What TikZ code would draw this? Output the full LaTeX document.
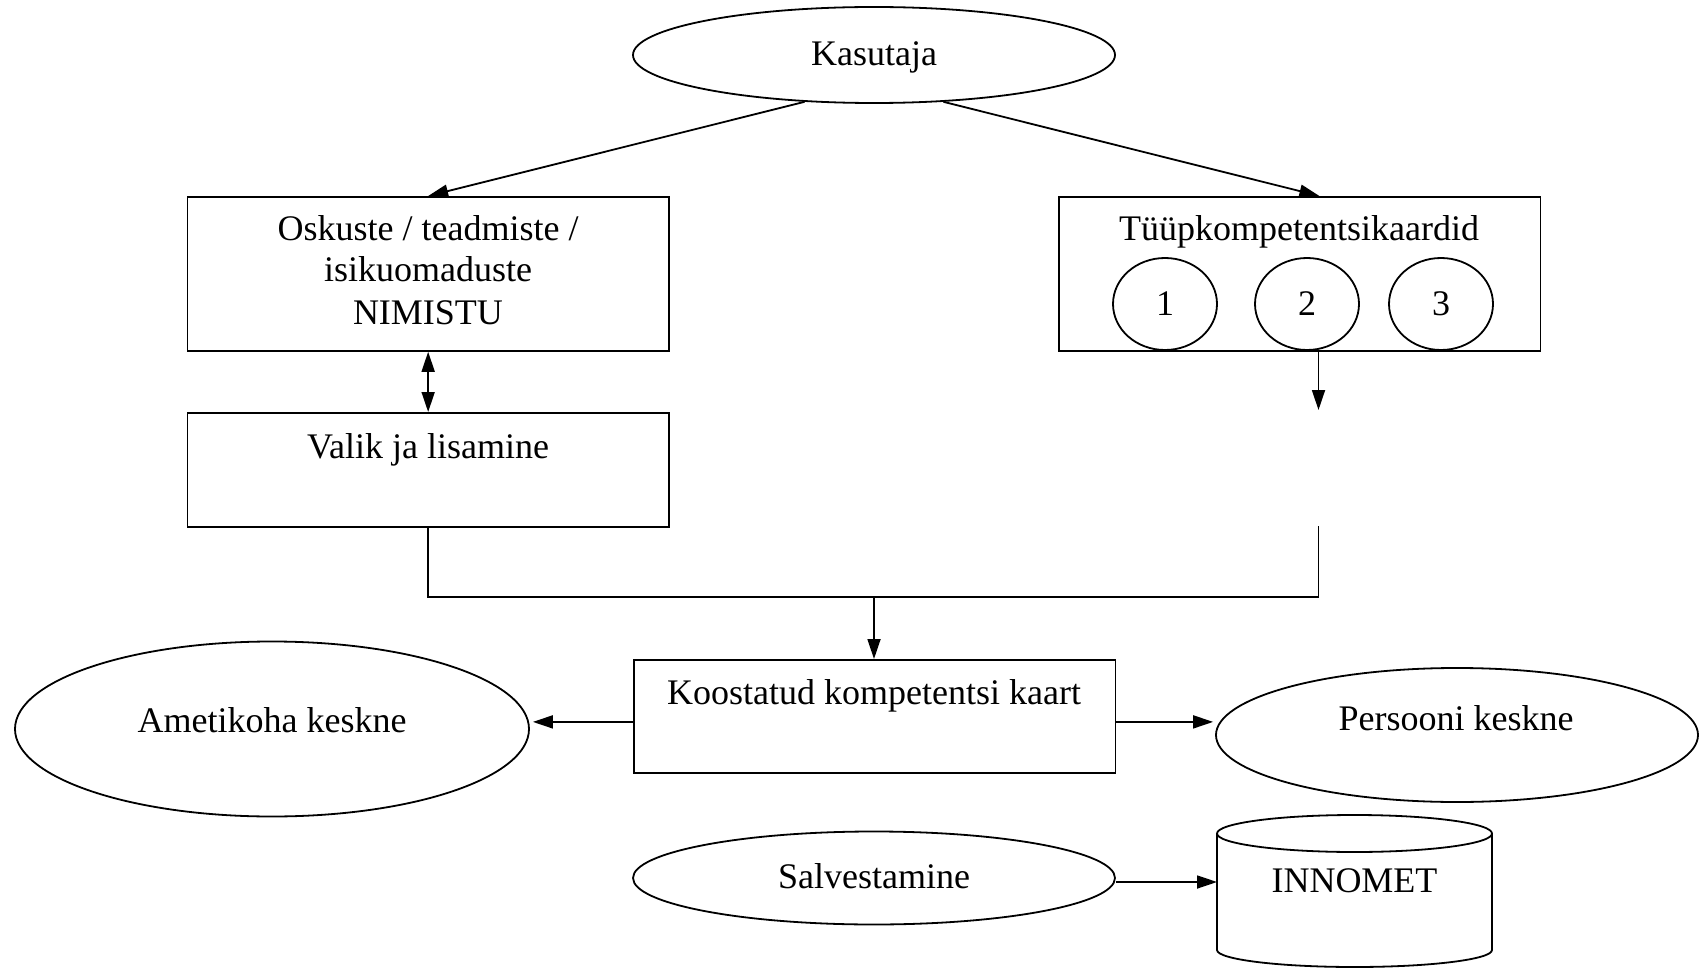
\documentclass[tikz,border=0pt]{standalone}
\usepackage{fontspec}
\setmainfont{Liberation Serif}
\usetikzlibrary{arrows.meta,shapes.geometric}
\begin{document}
\begin{tikzpicture}[x=1pt,y=-1pt,line width=1.8pt,
  every node/.style={font=\fontsize{36}{43}\selectfont},
  box/.style={draw,rectangle,inner sep=0pt,anchor=north west},
  oval/.style={draw,ellipse,inner sep=0pt},
  txt/.style={anchor=base,inner sep=0pt},
  arr/.style={-{Triangle[length=20pt,width=13pt]}},
  darr/.style={{Triangle[length=20pt,width=13pt]}-{Triangle[length=20pt,width=13pt]}}]
\useasboundingbox (0,0) rectangle (1700,968);

% top actor
\node[oval,minimum width=482pt,minimum height=96pt] (kas) at (874,55) {};
\node[txt] (kast) at (874,66) {Kasutaja};

% list box and selection box
\node[box,minimum width=481.5pt,minimum height=154pt] (osk) at (186.5,196) {};
\node[txt] (osk1) at (428,241) {Oskuste / teadmiste /};
\node[txt] (osk2) at (428,282) {isikuomaduste};
\node[txt] (osk3) at (428,324) {NIMISTU};

\node[box,minimum width=481.5pt,minimum height=114pt] (val) at (186.5,412) {};
\node[txt] (valt) at (428,458) {Valik ja lisamine};

% template maps box
\node[box,minimum width=481.5pt,minimum height=154pt] (tup) at (1058,196) {};
\node[txt] (tupt) at (1299,241) {Tüüpkompetentsikaardid};
\node[oval,minimum width=104pt,minimum height=92pt] (c1) at (1165,304) {1};
\node[oval,minimum width=104pt,minimum height=92pt] (c2) at (1307,304) {2};
\node[oval,minimum width=104pt,minimum height=92pt] (c3) at (1441,304) {3};

% composed map and its two views
\node[box,minimum width=481.5pt,minimum height=113pt] (koo) at (633,659) {};
\node[txt] (koot) at (874,704) {Koostatud kompetentsi kaart};

\node[oval,minimum width=514pt,minimum height=175pt] (ame) at (272,729) {};
\node[txt] (amet) at (272,732) {Ametikoha keskne};

\node[oval,minimum width=482pt,minimum height=134pt] (per) at (1457,735) {};
\node[txt] (pert) at (1456,730) {Persooni keskne};

% saving to the database
\node[oval,minimum width=482pt,minimum height=93pt] (sal) at (874,878) {};
\node[txt] (salt) at (874,888) {Salvestamine};

% database cylinder
\draw (1354.5,833.5) ellipse [x radius=137.5pt,y radius=18.5pt];
\draw (1217,833.5) -- (1217,950) arc[start angle=180,end angle=360,x radius=137.5pt,y radius=17pt] -- (1492,833.5);
\node[txt] (dbt) at (1354.5,892) {INNOMET};
\coordinate (db) at (1217,882);

% connectors
\draw[arr] (kas.-146) -- (osk.north);
\draw[arr] (kas.-34.5) -- ([xshift=19.75pt]tup.north);
\draw[darr] (osk.south) -- (val.north);

\coordinate (tdown) at (1318.5,410);
\draw[arr] (tdown |- tup.south) -- (tdown);
\coordinate (rend) at (1318.5,526);
\coordinate (join) at (874,597);
\draw (val.south) |- (join) -| (rend);
\draw[arr] (join) -- (join |- koo.north);

\draw[arr,shorten >=3pt] ([yshift=-5.5pt]koo.west) -- ([yshift=-5.5pt]koo.west -| ame.east);
\draw[arr,shorten >=2pt] ([yshift=-5.5pt]koo.east) -- ([yshift=-5.5pt]koo.east -| per.west);
\draw[arr] (sal.east |- db) -- (db);
\end{tikzpicture}
\end{document}
